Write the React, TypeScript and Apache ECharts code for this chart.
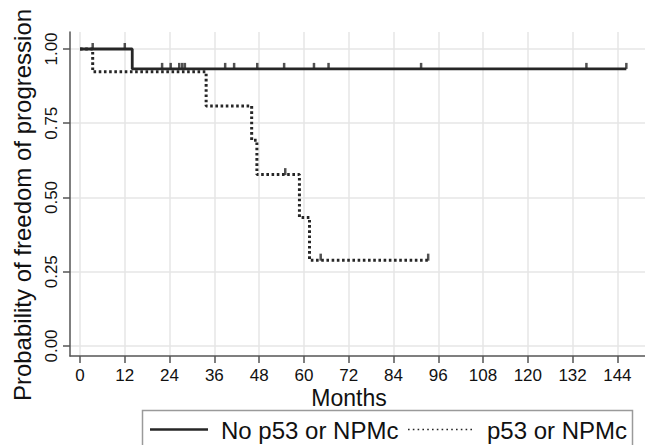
import React, { useEffect, useRef } from "react";
import * as echarts from "echarts";

// Kaplan–Meier step points [months, survival probability]
const noP53Curve: [number, number][] = [
  [0, 1.0],
  [14, 0.933],
  [146.4, 0.933],
];
const p53Curve: [number, number][] = [
  [0, 1.0],
  [3.4, 0.923],
  [33.8, 0.808],
  [46, 0.693],
  [47.4, 0.577],
  [58.8, 0.433],
  [61.5, 0.289],
  [93.3, 0.289],
];

// Censoring times (months) with the survival level at which they sit
const noP53Censored: [number, number][] = [
  [3.4, 1.0], [12, 1.0],
  [22, 0.933], [24.3, 0.933], [26.6, 0.933], [27.4, 0.933], [28.1, 0.933],
  [38.9, 0.933], [41.3, 0.933], [47.5, 0.933], [54.7, 0.933], [62.7, 0.933],
  [66.6, 0.933], [91.4, 0.933], [135.7, 0.933], [146.4, 0.933],
];
const p53Censored: [number, number][] = [
  [55, 0.577], [64.5, 0.289], [93.3, 0.289],
];

const monthTicks = [0, 12, 24, 36, 48, 60, 72, 84, 96, 108, 120, 132, 144];
const probTicks = [0, 0.25, 0.5, 0.75, 1.0];

const seriesNames = ["No p53 or NPMc", "p53 or NPMc"];
const xTitle = "Months";
const yTitle = "Probability of freedom of progression";

const FONT = "Liberation Sans, Arial, sans-serif";
const INK = "#262626";
const GRID = "#e6e6e6";
const AXIS = "#555";
const DOTS = [2.6, 2.6];

export default function App() {
  const ref = useRef<HTMLDivElement>(null);

  useEffect(() => {
    if (!ref.current) return;
    const chart = echarts.init(ref.current, undefined, { renderer: "svg" });

    chart.setOption({
      animation: false,
      backgroundColor: "#ffffff",
      textStyle: { fontFamily: FONT },
      grid: { left: 70, right: 0, top: 32, bottom: 89, containLabel: false },
      xAxis: {
        type: "value",
        min: -2.68,
        max: 151.4,
        axisLine: { show: true, onZero: false, lineStyle: { color: AXIS, width: 1.5 } },
        axisTick: {
          show: true,
          length: 7,
          customValues: monthTicks,
          lineStyle: { color: AXIS, width: 1.5 },
        },
        axisLabel: {
          customValues: monthTicks,
          fontSize: 17,
          color: "#111",
          margin: 11,
          fontFamily: FONT,
        },
        splitLine: { show: true, lineStyle: { color: GRID, width: 1.5 } },
      },
      yAxis: {
        type: "value",
        min: -0.0337,
        max: 1.0572,
        axisLine: { show: true, onZero: false, lineStyle: { color: AXIS, width: 1.5 } },
        axisTick: {
          show: true,
          length: 7,
          customValues: probTicks,
          lineStyle: { color: AXIS, width: 1.5 },
        },
        axisLabel: {
          customValues: probTicks,
          rotate: 90,
          fontSize: 17,
          color: "#111",
          margin: 10,
          fontFamily: FONT,
          formatter: (v: number) => v.toFixed(2),
        },
        splitLine: { show: true, lineStyle: { color: GRID, width: 1.5 } },
      },
      graphic: [
        {
          type: "text",
          x: 349,
          y: 397.5,
          style: {
            text: xTitle,
            fontSize: 23,
            fontFamily: FONT,
            fill: "#111",
            align: "center",
            verticalAlign: "middle",
          },
        },
        {
          type: "text",
          x: 22,
          y: 205,
          rotation: Math.PI / 2,
          style: {
            text: yTitle,
            fontSize: 24,
            fontFamily: FONT,
            fill: "#111",
            align: "center",
            verticalAlign: "middle",
          },
        },
        // legend box
        {
          type: "rect",
          shape: { x: 142.5, y: 410.5, width: 490, height: 60 },
          style: { fill: "none", stroke: "#9a9a9a", lineWidth: 1.5 },
        },
        {
          type: "line",
          shape: { x1: 150, y1: 429.5, x2: 208, y2: 429.5 },
          style: { stroke: INK, lineWidth: 2.6 },
        },
        {
          type: "text",
          x: 221,
          y: 430.5,
          style: {
            text: seriesNames[0],
            fontSize: 24,
            fontFamily: FONT,
            fill: "#111",
            verticalAlign: "middle",
          },
        },
        {
          type: "line",
          shape: { x1: 408, y1: 429.5, x2: 473, y2: 429.5 },
          style: { stroke: INK, lineWidth: 1.6, lineDash: [1.6, 3.2] },
        },
        {
          type: "text",
          x: 487,
          y: 430.5,
          style: {
            text: seriesNames[1],
            fontSize: 24,
            fontFamily: FONT,
            fill: "#111",
            verticalAlign: "middle",
          },
        },
      ],
      series: [
        {
          name: seriesNames[0],
          type: "line",
          step: "end",
          data: noP53Curve,
          showSymbol: false,
          symbol: "none",
          lineStyle: { color: INK, width: 2.8, type: "solid" },
          itemStyle: { color: INK },
          z: 3,
        },
        {
          name: seriesNames[1],
          type: "line",
          step: "end",
          data: p53Curve,
          showSymbol: false,
          symbol: "none",
          lineStyle: { color: INK, width: 3, type: DOTS },
          itemStyle: { color: INK },
          z: 2,
        },
        {
          name: "censored-a",
          type: "scatter",
          data: noP53Censored,
          symbol: "rect",
          symbolSize: [2.5, 6],
          symbolOffset: [0, -3],
          itemStyle: { color: INK },
          z: 4,
        },
        {
          name: "censored-b",
          type: "scatter",
          data: p53Censored,
          symbol: "rect",
          symbolSize: [2.5, 7],
          symbolOffset: [0, -3],
          itemStyle: { color: INK },
          z: 4,
        },
      ],
    });

    return () => chart.dispose();
  }, []);

  return <div ref={ref} style={{ width: 645, height: 445, position: "absolute", left: 0, top: 0 }} />;
}
